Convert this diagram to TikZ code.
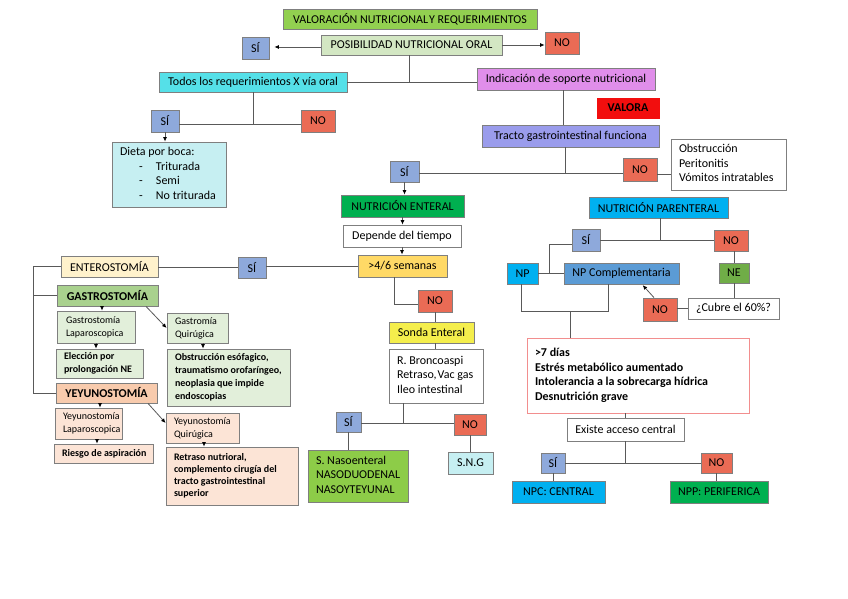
\documentclass[tikz,border=0pt]{standalone}
\usepackage{fontspec}
\setmainfont{Carlito}
\usetikzlibrary{arrows.meta}
\definecolor{cBorder}{HTML}{7F7F7F}
\definecolor{cLine}{HTML}{595959}
\definecolor{cVal}{HTML}{92D050}
\definecolor{cPos}{HTML}{D3E7C3}
\definecolor{cSi}{HTML}{8EA9DB}
\definecolor{cNo}{HTML}{EA6B55}
\definecolor{cCyan}{HTML}{55E0E8}
\definecolor{cViolet}{HTML}{E08EEA}
\definecolor{cLCyan}{HTML}{C6EFF2}
\definecolor{cRed}{HTML}{F20E0E}
\definecolor{cLav}{HTML}{9A9CEC}
\definecolor{cGreen}{HTML}{00B050}
\definecolor{cYel}{HTML}{FFD966}
\definecolor{cYelB}{HTML}{F4EE4C}
\definecolor{cSN}{HTML}{8DCC48}
\definecolor{cCream}{HTML}{FFF2CC}
\definecolor{cGas}{HTML}{A9D18E}
\definecolor{cLG}{HTML}{E2EFDA}
\definecolor{cYey}{HTML}{F8CBAD}
\definecolor{cLS}{HTML}{FCE4D6}
\definecolor{cBlue}{HTML}{00B0F0}
\definecolor{cNPC}{HTML}{5B9BD5}
\definecolor{cNE}{HTML}{70AD47}
\definecolor{cPink}{HTML}{F28E8E}
\newcommand\lbx[2]{\makebox[#1][l]{\begin{tabular}{@{}l@{}}#2\end{tabular}}}
\begin{document}
\begin{tikzpicture}[x=1pt,y=-1pt,
  bx/.style={draw=cBorder, line width=0.8pt, inner sep=0pt, align=center,
    font=\fontsize{12}{14.5}\selectfont},
  sz/.style 2 args={minimum width=#1, minimum height=#2},
  sm/.style={font=\fontsize{10}{13}\selectfont},
  smb/.style={font=\fontsize{10}{12.7}\selectfont\bfseries},
  ln/.style={draw=cLine, line width=0.8pt},
  arr/.style={ln, -{Latex[length=4.5pt,width=4pt,color=black]}}]
\useasboundingbox (0,0) rectangle (848,599);
\fill[white] (0,0) rectangle (848,599);

% top
\node[bx, fill=cVal, sz={254pt}{20pt}] (val) at (410,19) {VALORACIÓN NUTRICIONAL\kern1pt Y REQUERIMIENTOS};
\node[bx, fill=cPos, sz={181pt}{20pt}] (pos) at (411.5,45) {POSIBILIDAD NUTRICIONAL ORAL};
\node[bx, fill=cSi, sz={27pt}{22pt}] (si1) at (255.5,48) {SÍ};
\node[bx, fill=cNo, sz={34pt}{22pt}] (no1) at (562,43) {NO};
\node[bx, fill=cCyan, sz={188pt}{20pt}] (todos) at (253,82) {Todos los requerimientos X vía oral};
\node[bx, fill=cViolet, sz={178pt}{22pt}] (ind) at (566,79) {Indicación de soporte nutricional};
\node[bx, fill=cSi, sz={28pt}{22pt}] (si2) at (165,121) {SÍ};
\node[bx, fill=cNo, sz={34pt}{22pt}] (no2) at (318,121) {NO};
\node[bx, fill=cLCyan, sz={114pt}{65pt}] (dieta) at (169,174.5) {\lbx{98pt}{Dieta por boca:\\\hspace*{19pt}\makebox[17pt][l]{-}Triturada\\\hspace*{19pt}\makebox[17pt][l]{-}Semi\\\hspace*{19pt}\makebox[17pt][l]{-}No triturada}};
\node[bx, fill=cRed, draw=cRed, sz={62pt}{20pt}, font=\fontsize{12}{14.5}\selectfont\bfseries] (valora) at (628,108) {VALORA};
\node[bx, fill=cLav, sz={177pt}{22pt}] (tracto) at (570.5,136) {Tracto gastrointestinal funciona};
\node[bx, fill=cSi, sz={29pt}{21pt}] (si3) at (404.5,171.5) {SÍ};
\node[bx, fill=cNo, sz={34pt}{23pt}] (no3) at (640,169.5) {NO};
\node[bx, fill=white, sz={115pt}{51pt}] (obs) at (728.5,164.5) {\lbx{99pt}{Obstrucción\\Peritonitis\\Vómitos intratables}};

% enteral
\node[bx, fill=cGreen, sz={123pt}{22pt}] (ne) at (402.5,206) {NUTRICIÓN ENTERAL};
\node[bx, fill=white, sz={118pt}{22pt}] (dep) at (402,236) {Depende del tiempo};
\node[bx, fill=cYel, sz={89pt}{22pt}] (sem) at (402.5,266) {>4/6 semanas};
\node[bx, fill=cNo, sz={34pt}{22pt}] (no4) at (435,301) {NO};
\node[bx, fill=cYelB, sz={85pt}{21pt}] (sonda) at (431.5,332.5) {Sonda Enteral};
\node[bx, fill=white, sz={94pt}{54pt}] (rb) at (436,376) {\lbx{78pt}{R. Broncoaspi\\Retraso,\kern1pt Vac gas\\Ileo intestinal}};
\node[bx, fill=cSi, sz={25pt}{20pt}] (si5) at (348.5,422) {SÍ};
\node[bx, fill=cNo, sz={32pt}{21pt}] (no5) at (470,424.5) {NO};
\node[bx, fill=cSN, sz={100pt}{52pt}] (sn) at (358,476) {\lbx{84pt}{S. Nasoenteral\\NASODUODENAL\\NASOYTEYUNAL}};
\node[bx, fill=cLCyan, sz={45pt}{22pt}] (sng) at (470.5,463) {S.N.G};
\node[bx, fill=cSi, sz={28pt}{21pt}] (si6) at (252,267.5) {SÍ};

% ostomias
\coordinate (L) at (33,0);
\node[bx, fill=cCream, sz={97pt}{21pt}] (ent) at (109.5,266.5) {ENTEROSTOMÍA};
\node[bx, fill=cGas, sz={101pt}{21pt}, font=\fontsize{12}{14.5}\selectfont\bfseries] (gas) at (107.5,295.5) {GASTROSTOMÍA};
\node[bx, fill=cLG, sz={78pt}{32pt}, sm] (gl) at (96,327) {\lbx{60pt}{Gastrostomía\\Laparoscopica}};
\node[bx, fill=cLG, sz={87pt}{29pt}, smb] (el) at (99.5,363.5) {\lbx{71pt}{Elección por\\prolongación NE}};
\node[bx, fill=cLG, sz={61pt}{30pt}, sm] (gq) at (197.5,328) {\lbx{45pt}{Gastromía\\Quirúgica}};
\node[bx, fill=cLG, sz={123pt}{57pt}, smb] (ob) at (228.5,377.5) {\lbx{107pt}{Obstrucción esófagico,\\traumatismo orofaríngeo,\\neoplasia que impide\\endoscopias}};
\node[bx, fill=cYey, sz={101pt}{20pt}, font=\fontsize{12}{14.5}\selectfont\bfseries] (yey) at (106.5,393) {YEYUNOSTOMÍA};
\node[bx, fill=cLS, sz={67pt}{31pt}, sm] (yl) at (88.5,423.5) {\lbx{51pt}{Yeyunostomía\\Laparoscopica}};
\node[bx, fill=cLS, sz={99pt}{19pt}, smb] (ri) at (103.5,453.5) {\lbx{83pt}{Riesgo de aspiración}};
\node[bx, fill=cLS, sz={73pt}{30pt}, sm] (yq) at (202.5,428) {\lbx{57pt}{Yeyunostomía\\Quirúgica}};
\node[bx, fill=cLS, sz={132pt}{58pt}, font=\fontsize{10}{11.8}\selectfont\bfseries] (rt) at (232,476) {\lbx{116pt}{Retraso nutrioral,\\complemento cirugía del\\tracto gastrointestinal\\superior}};

% parenteral
\node[bx, fill=cBlue, sz={139pt}{21pt}] (npar) at (658.5,207.5) {NUTRICIÓN PARENTERAL};
\node[bx, fill=cSi, sz={28pt}{22pt}] (si7) at (586,240) {SÍ};
\node[bx, fill=cNo, sz={34pt}{21pt}] (no7) at (731,240.5) {NO};
\node[bx, fill=cNE, sz={30pt}{20pt}] (neb) at (734,273) {NE};
\node[bx, fill=white, sz={91pt}{21pt}] (cub) at (733.5,308.5) {¿Cubre el 60\%?};
\node[bx, fill=cNo, sz={34pt}{23pt}] (no8) at (660,309.5) {NO};
\node[bx, fill=cNPC, sz={115pt}{21pt}] (npc) at (621.5,273.5) {NP Complementaria};
\node[bx, fill=cBlue, sz={31pt}{21pt}] (np) at (522.5,273.5) {NP};
\node[bx, fill=white, draw=cPink, sz={222pt}{75pt}, font=\fontsize{12}{14.6}\selectfont\bfseries] (d7) at (638,375.5) {\lbx{206pt}{>7 días\\Estrés metabólico aumentado\\Intolerancia a la sobrecarga hídrica\\Desnutrición grave}};
\node[bx, fill=white, sz={117pt}{23pt}] (ex) at (625.5,429.5) {Existe acceso central};
\node[bx, fill=cSi, sz={24pt}{20pt}] (si8) at (553,463) {SÍ};
\node[bx, fill=cNo, sz={31pt}{20pt}] (no9) at (716.5,463) {NO};
\node[bx, fill=cBlue, sz={93pt}{22pt}] (npcc) at (558.5,492) {NPC: CENTRAL};
\node[bx, fill=cGreen, sz={98pt}{22pt}] (npp) at (719,492) {NPP: PERIFERICA};

% connectors top
\draw[arr, shorten >=5pt] ([yshift=-2pt]pos.west) -- ([yshift=-2pt]pos.west -| si1.east);
\draw[arr] (pos.east) -- (pos.east -| no1.west);
\draw[ln] ([xshift=-2.5pt]pos.south) -- ([xshift=-2.5pt]pos.south |- todos.east);
\draw[ln] (todos.east) -- (todos.east -| ind.west);
\draw[ln] (todos.south) -- ([yshift=-3pt]todos.south |- si2.east);
\draw[ln] ([yshift=-3pt]si2.east) -- ([yshift=-3pt]si2.east -| no2.west);
\draw[arr] (si2.south) -- (si2.south |- dieta.north);
\draw[ln] ([xshift=-3pt]ind.south) -- ([xshift=-3pt]ind.south |- tracto.north);
\draw[ln] ([xshift=-5.5pt]tracto.south) -- ([xshift=-5.5pt,yshift=-2pt]tracto.south |- si3.east);
\draw[ln] ([yshift=-2pt]si3.east) -- ([yshift=-2pt]si3.east -| no3.west);
\draw[ln] ([yshift=-5pt]no3.east) -- ([yshift=-5pt]no3.east -| obs.west);

% connectors enteral
\draw[arr] (si3.south) -- (si3.south |- ne.north);
\draw[arr] (ne.south) -- (ne.south |- dep.north);
\draw[arr] (dep.south) -- (dep.south |- sem.north);
\draw[ln] ([xshift=-8.5pt]sem.south) |- ([yshift=-3pt]no4.west);
\draw[ln] (no4.south) -- (no4.south |- sonda.north);
\draw[ln] ([xshift=3.5pt]sonda.south) -- ([xshift=3.5pt]sonda.south |- rb.north);
\coordinate (jR) at (403,423);
\draw[ln] (rb.south -| jR) -- (jR);
\draw[ln] (si5.east |- jR) -- (no5.west |- jR);
\draw[ln] (si5.south) -- (si5.south |- sn.north);
\draw[ln] (no5.south) -- (no5.south |- sng.north);
\draw[ln] (sem.west) -- (sem.west -| si6.east);
\draw[ln] (si6.west) -- (si6.west -| ent.east);

% connectors ostomias
\draw[ln] (ent.west) -- (ent.west -| L) -- (L |- yey.west) -- (yey.west);
\draw[ln] (L |- gas.west) -- (gas.west);
\draw[arr] ([xshift=-5.5pt]gas.south) -- ([xshift=-5.5pt]gas.south |- gl.north);
\draw[arr] (gl.south) -- (gl.south |- el.north);
\draw[arr] ([xshift=38.5pt]gas.south) -- (gq.west);
\draw[arr] ([xshift=5.5pt]gq.south) -- ([xshift=5.5pt]gq.south |- ob.north);
\draw[arr] ([xshift=-6.5pt]yey.south) -- ([xshift=-6.5pt]yey.south |- yl.north);
\draw[arr] ([xshift=8.5pt]yl.south) -- ([xshift=8.5pt]yl.south |- ri.north);
\draw[arr] ([xshift=41.5pt]yey.south) -- ([yshift=5pt]yq.west);
\draw[arr] ([xshift=1.5pt]yq.south) -- ([xshift=1.5pt]yq.south |- rt.north);

% connectors parenteral
\draw[ln] ([xshift=1.5pt]npar.south) -- ([xshift=1.5pt]npar.south |- si7.east);
\draw[ln] (si7.east) -- (si7.east -| no7.west);
\draw[ln] (neb.north |- no7.south) -- (neb.north);
\draw[ln] (neb.south) -- (neb.south |- cub.north);
\draw[ln] (cub.west) -- (cub.west -| no8.east);
\draw[arr, shorten >=1pt] ([xshift=-6pt]no8.north) -- ([xshift=20.5pt]npc.south);
\coordinate (jP) at (549,244);
\draw[ln] ([yshift=-4pt]si7.west) -- (jP) -- (jP |- np.east);
\draw[ln] (np.east) -- (npc.west);
\coordinate (jB1) at (608,311);
\coordinate (jB2) at (570,311);
\draw[ln] ([xshift=-1.5pt]np.south) |- (jB1) -- (jB1 |- npc.south);
\draw[ln] (jB2) -- (jB2 |- d7.north);
\draw[ln] (ex.north |- d7.south) -- (ex.north);
\draw[ln] (ex.south) -- (ex.south |- si8.east);
\draw[ln] (si8.east) -- (si8.east -| no9.west);
\draw[ln] (si8.south) -- (si8.south |- npcc.north);
\draw[ln] (no9.south) -- (no9.south |- npp.north);
\end{tikzpicture}
\end{document}
